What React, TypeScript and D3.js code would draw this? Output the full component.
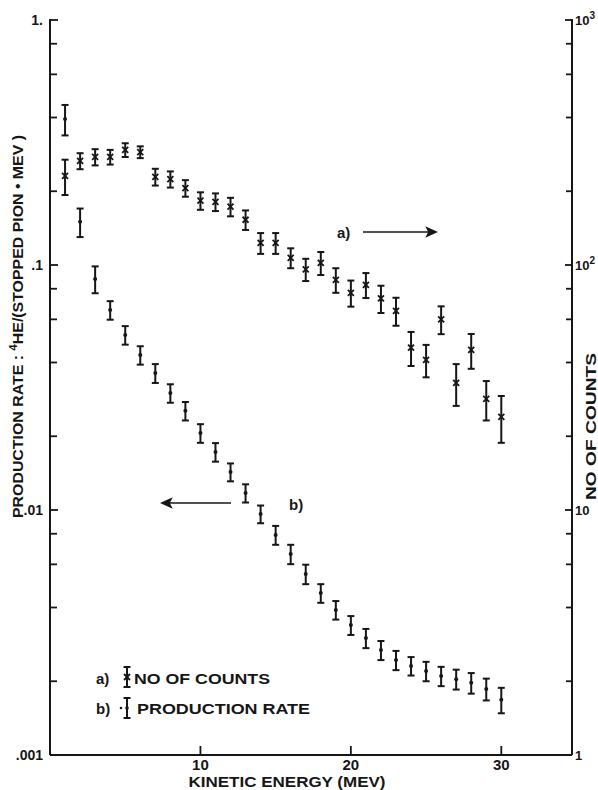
import React from "react";
import * as d3 from "d3";

// Kinetic energy (MeV) of each bin
const energies = [1, 2, 3, 4, 5, 6, 7, 8, 9, 10, 11, 12, 13, 14, 15, 16, 17, 18, 19, 20, 21, 22, 23, 24, 25, 26, 27, 28, 29, 30];
// a) number of counts (right axis)
const counts = [231, 266, 276, 276, 295, 289, 229, 224, 206, 183, 181, 173, 153, 123, 123, 107, 96, 102, 87, 77, 83, 73, 65, 46, 41, 60, 33, 45, 28.4, 24];
const countErr = [38, 20, 21, 19, 19, 16, 18, 17, 16, 15, 15, 15, 14, 12, 12, 10, 10, 11, 10, 9.4, 9.7, 9.3, 8.5, 7.3, 6.2, 7.8, 6.4, 7.3, 5.2, 5.2];
// b) production rate (left axis)
const rates = [0.394, 0.15, 0.0877, 0.0655, 0.0518, 0.0429, 0.0362, 0.03, 0.0254, 0.0206, 0.01725, 0.01429, 0.01173, 0.00963, 0.00791, 0.00661, 0.00548, 0.00458, 0.00391, 0.00339, 0.003, 0.00268, 0.00244, 0.00231, 0.0022, 0.0021, 0.00204, 0.00197, 0.00186, 0.00168];
const rateErr = [0.056, 0.02, 0.011, 0.0057, 0.0045, 0.0037, 0.0032, 0.0026, 0.0022, 0.0018, 0.0015, 0.0012, 0.001, 0.0008, 0.0007, 0.0006, 0.0005, 0.0004, 0.00034, 0.0003, 0.00027, 0.00024, 0.00022, 0.0002, 0.0002, 0.00019, 0.00019, 0.00019, 0.00019, 0.0002];

const leftTicks = [1, 0.1, 0.01, 0.001];
const leftTickLabels = ["1.", ".1", ".01", ".001"];
const rightTicks = [1000, 100, 10, 1];
const rightTickBase = ["10", "10", "10", "1"];
const rightTickExp = ["3", "2", "", ""];
const minorMultipliers = [2, 4, 6, 8];
const xTicks = [10, 20, 30];

const W = 598;
const H = 790;
const INK = "#161616";
const FONT = "'Liberation Sans', Arial, sans-serif";

export default function App() {
  const x = d3.scaleLinear().domain([0, 34.7]).range([50, 572]);
  const yL = d3.scaleLog().domain([0.001, 1]).range([755, 20]);
  const yR = d3.scaleLog().domain([1, 1000]).range([755, 20]);
  const x0 = x(0);
  const x1 = x(34.7);
  const yBottom = yL(0.001);
  const yTop = yL(1);

  const minorLeft: number[] = [];
  [0.001, 0.01, 0.1].forEach((d) => minorMultipliers.forEach((m) => minorLeft.push(d * m)));
  const minorRight: number[] = [];
  [1, 10, 100].forEach((d) => minorMultipliers.forEach((m) => minorRight.push(d * m)));

  const cap = 3.5;

  const ErrorBar = ({ cx, yHi, yLo }: { cx: number; yHi: number; yLo: number }) => (
    <g stroke={INK} strokeWidth={2} fill="none">
      <line x1={cx} x2={cx} y1={yHi} y2={yLo} />
      <line x1={cx - cap} x2={cx + cap} y1={yHi} y2={yHi} />
      <line x1={cx - cap} x2={cx + cap} y1={yLo} y2={yLo} />
    </g>
  );
  const Cross = ({ cx, cy }: { cx: number; cy: number }) => (
    <g stroke={INK} strokeWidth={1.8}>
      <line x1={cx - 3} x2={cx + 3} y1={cy - 3} y2={cy + 3} />
      <line x1={cx - 3} x2={cx + 3} y1={cy + 3} y2={cy - 3} />
    </g>
  );

  return (
    <svg
      width={W}
      height={H}
      style={{ position: "absolute", left: 0, top: 0, background: "#fff" }}
      fontFamily={FONT}
    >
      <rect x={0} y={0} width={W} height={H} fill="#fff" />

      {/* frame */}
      <g stroke={INK} strokeWidth={2} fill="none">
        <line x1={x0} x2={x0} y1={yTop - 1} y2={yBottom} />
        <line x1={x1} x2={x1} y1={yTop - 1} y2={yBottom} />
        <line x1={x0} x2={x1} y1={yBottom} y2={yBottom} />
      </g>

      {/* ticks */}
      <g stroke={INK} strokeWidth={1.8}>
        {leftTicks.map((t) => (
          <line key={"lt" + t} x1={x0} x2={x0 + 8} y1={yL(t)} y2={yL(t)} />
        ))}
        {minorLeft.map((t) => (
          <line key={"lm" + t} x1={x0} x2={x0 + 7} y1={yL(t)} y2={yL(t)} />
        ))}
        {rightTicks.map((t) => (
          <line key={"rt" + t} x1={x1} x2={x1 - 7} y1={yR(t)} y2={yR(t)} />
        ))}
        {minorRight.map((t) => (
          <line key={"rm" + t} x1={x1} x2={x1 - 6} y1={yR(t)} y2={yR(t)} />
        ))}
        {xTicks.map((t) => (
          <line key={"xt" + t} x1={x(t)} x2={x(t)} y1={yBottom} y2={yBottom - 9} />
        ))}
      </g>

      {/* tick labels */}
      <g fill={INK} fontWeight="bold" fontSize={14}>
        {leftTicks.map((t, i) => (
          <text key={"ll" + t} x={x0 - 7} y={yL(t) + 5} textAnchor="end">
            {leftTickLabels[i]}
          </text>
        ))}
        {rightTicks.map((t, i) => (
          <text key={"rl" + t} x={x1 + 3} y={yR(t) + 5} fontSize={13}>
            {rightTickBase[i]}
            {rightTickExp[i] ? (
              <tspan dy={-6} fontSize={10}>
                {rightTickExp[i]}
              </tspan>
            ) : null}
          </text>
        ))}
        {xTicks.map((t) => (
          <text key={"xl" + t} x={x(t)} y={770} textAnchor="middle" fontSize={15}>
            {t}
          </text>
        ))}
      </g>

      {/* axis titles */}
      <text
        x={287}
        y={787}
        textAnchor="middle"
        fontWeight="bold"
        fontSize={15}
        fill={INK}
        textLength={197}
        lengthAdjust="spacingAndGlyphs"
      >
        KINETIC ENERGY (MEV)
      </text>
      <text
        transform="translate(23,518) rotate(-90)"
        fontWeight="bold"
        fontSize={15}
        fill={INK}
        textLength={383}
        lengthAdjust="spacingAndGlyphs"
      >
        PRODUCTION RATE : <tspan dy={-6} fontSize={11}>4</tspan>
        <tspan dy={6}>HE/(STOPPED PION • MEV )</tspan>
      </text>
      <text
        transform="translate(596,500) rotate(-90)"
        fontWeight="bold"
        fontSize={15}
        fill={INK}
        textLength={147}
        lengthAdjust="spacingAndGlyphs"
      >
        NO OF COUNTS
      </text>

      {/* series a: counts */}
      {energies.map((e, i) => (
        <g key={"a" + e}>
          <ErrorBar cx={x(e)} yHi={yR(counts[i] + countErr[i])} yLo={yR(counts[i] - countErr[i])} />
          <Cross cx={x(e)} cy={yR(counts[i])} />
        </g>
      ))}

      {/* series b: production rate */}
      {energies.map((e, i) => (
        <g key={"b" + e}>
          <ErrorBar cx={x(e)} yHi={yL(rates[i] + rateErr[i])} yLo={yL(rates[i] - rateErr[i])} />
          <circle cx={x(e)} cy={yL(rates[i])} r={2} fill={INK} />
        </g>
      ))}

      {/* annotations */}
      <g fill={INK} fontWeight="bold" fontSize={15}>
        <text x={337} y={238}>a)</text>
        <text x={289} y={510}>b)</text>
      </g>
      <g stroke={INK} strokeWidth={1.6} fill={INK}>
        <line x1={363} x2={430} y1={232} y2={232} />
        <path d="M436,232 L427,228 L429,232 L427,236 Z" />
        <line x1={168} x2={231} y1={503} y2={503} />
        <path d="M162,503 L171,499 L169,503 L171,507 Z" />
      </g>

      {/* legend */}
      <g fill={INK} fontWeight="bold" fontSize={15}>
        <text x={96} y={684}>a)</text>
        <text x={96} y={714}>b)</text>
        <text x={134} y={684} textLength={136} lengthAdjust="spacingAndGlyphs">NO OF COUNTS</text>
        <text x={137} y={714} textLength={173} lengthAdjust="spacingAndGlyphs">PRODUCTION  RATE</text>
      </g>
      <ErrorBar cx={127} yHi={667} yLo={687} />
      <Cross cx={127} cy={677} />
      <ErrorBar cx={127} yHi={698} yLo={718} />
      <circle cx={127} cy={708} r={1.8} fill={INK} />
      <circle cx={121} cy={708} r={1.3} fill={INK} />
    </svg>
  );
}
